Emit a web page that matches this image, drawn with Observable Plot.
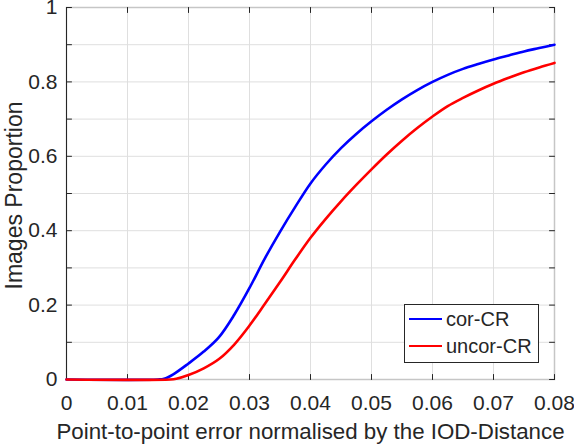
<!DOCTYPE html>
<html>
<head>
<meta charset="utf-8">
<script src="https://cdn.jsdelivr.net/npm/d3@7"></script>
<script src="https://cdn.jsdelivr.net/npm/@observablehq/plot@0.6"></script>
<style>
  body { margin: 0; background: #fff; }
  #wrap { position: relative; width: 574px; height: 444px; font-family: "Liberation Sans", Arial, sans-serif; color: #262626; }
  #legend { position: absolute; left: 404px; top: 304px; width: 133px; height: 57px; border: 1px solid #262626; background: #fff; }
  .row { position: absolute; left: 0; height: 24px; line-height: 24px; font-size: 20px; white-space: nowrap; }
  .sw { position: absolute; left: 4px; top: 10.75px; width: 33px; height: 2.5px; }
  .lbl { position: absolute; left: 41px; top: 0; }
</style>
</head>
<body>
<div id="wrap"></div>
<script>
// Series names and colours
const seriesNames = ["cor-CR", "uncor-CR"];
const seriesColors = ["#0000ff", "#ff0000"];

// cor-CR (blue)
const corX = [0, 0.015, 0.016, 0.0175, 0.02, 0.0225, 0.025, 0.0275, 0.03, 0.0325, 0.035, 0.0375, 0.04, 0.0425, 0.045, 0.0475, 0.05, 0.0525, 0.055, 0.0575, 0.06, 0.0625, 0.065, 0.0675, 0.07, 0.0725, 0.075, 0.0775, 0.08];
const corY = [0, 0, 0.002, 0.014, 0.043, 0.075, 0.114, 0.174, 0.246, 0.325, 0.397, 0.464, 0.527, 0.578, 0.622, 0.66, 0.694, 0.725, 0.753, 0.778, 0.8, 0.819, 0.835, 0.848, 0.86, 0.871, 0.882, 0.891, 0.9];

// uncor-CR (red)
const uncorX = [0, 0.017, 0.018, 0.02, 0.0225, 0.025, 0.0275, 0.03, 0.0325, 0.035, 0.0375, 0.04, 0.0425, 0.045, 0.0475, 0.05, 0.0525, 0.055, 0.0575, 0.06, 0.0625, 0.065, 0.0675, 0.07, 0.0725, 0.075, 0.0775, 0.08];
const uncorY = [0, 0, 0.002, 0.012, 0.03, 0.055, 0.094, 0.145, 0.203, 0.262, 0.323, 0.381, 0.432, 0.479, 0.523, 0.565, 0.605, 0.642, 0.676, 0.707, 0.735, 0.757, 0.777, 0.795, 0.811, 0.826, 0.839, 0.851];

// Axes
const xDomain = [0, 0.08];
const yDomain = [0, 1];
const xTicks = [0, 0.01, 0.02, 0.03, 0.04, 0.05, 0.06, 0.07, 0.08];
const yTicks = [0, 0.1, 0.2, 0.3, 0.4, 0.5, 0.6, 0.7, 0.8, 0.9, 1];
const yLabels = [0, 0.2, 0.4, 0.6, 0.8, 1];
const xTitle = "Point-to-point error normalised by the IOD-Distance";
const yTitle = "Images Proportion";

const rows = [
  ...corX.map((x, i) => ({x, y: corY[i], series: seriesNames[0]})),
  ...uncorX.map((x, i) => ({x, y: uncorY[i], series: seriesNames[1]}))
];

const ink = "#262626";
const gridColor = "#dfdfdf";
const boxColor = "#c6c6c6";
const tickShape = { draw(context, l) { context.moveTo(0, 0); context.lineTo(0, -l); } };
const tickOpts = { length: 5, anchor: "start", shape: tickShape, stroke: ink, strokeWidth: 1 };
const fmt = d => String(d);

const chart = Plot.plot({
  width: 574,
  height: 444,
  marginLeft: 66,
  marginRight: 20,
  marginTop: 7,
  marginBottom: 65,
  style: { fontFamily: "'Liberation Sans', Arial, sans-serif", color: ink, background: "#fff", overflow: "visible" },
  x: { domain: xDomain },
  y: { domain: yDomain },
  color: { domain: seriesNames, range: seriesColors },
  marks: [
    Plot.ruleX(xTicks, { stroke: gridColor, strokeWidth: 1 }),
    Plot.ruleY(yTicks, { stroke: gridColor, strokeWidth: 1 }),
    Plot.frame({ stroke: boxColor, strokeWidth: 1.5 }),
    Plot.ruleX(xDomain.slice(0, 1), { stroke: ink, strokeWidth: 1 }),
    Plot.vector(xTicks, { x: d => d, y: yDomain[0], rotate: 0, ...tickOpts }),
    Plot.vector(xTicks, { x: d => d, y: yDomain[1], rotate: 180, ...tickOpts }),
    Plot.vector(yTicks, { y: d => d, x: xDomain[0], rotate: 90, ...tickOpts }),
    Plot.vector(yTicks, { y: d => d, x: xDomain[1], rotate: -90, ...tickOpts }),
    Plot.axisX({ ticks: xTicks, tickFormat: fmt, tickSize: 0, tickPadding: 16, fontSize: 21, label: null, fill: ink }),
    Plot.axisY({ ticks: yLabels, tickFormat: fmt, tickSize: 0, tickPadding: 9, fontSize: 21, label: null, fill: ink }),
    Plot.text([xTitle], { text: d => d, frameAnchor: "bottom", dy: 59, lineAnchor: "bottom", textAnchor: "middle", fontSize: 22.3, fill: ink }),
    Plot.text([yTitle], { text: d => d, frameAnchor: "left", dx: -61, dy: 2, rotate: -90, lineAnchor: "top", textAnchor: "middle", fontSize: 23, fill: ink }),
    Plot.line(rows, { x: "x", y: "y", z: "series", stroke: "series", curve: "catmull-rom", strokeWidth: 2.6 })
  ]
});

const wrap = document.getElementById("wrap");
wrap.appendChild(chart);

// Legend (HTML, built from the series arrays)
const legend = document.createElement("div");
legend.id = "legend";
seriesNames.forEach((name, i) => {
  const row = document.createElement("div");
  row.className = "row";
  row.style.top = (2 + i * 27) + "px";
  const sw = document.createElement("div");
  sw.className = "sw";
  sw.style.background = seriesColors[i];
  const lbl = document.createElement("div");
  lbl.className = "lbl";
  lbl.textContent = name;
  row.appendChild(sw);
  row.appendChild(lbl);
  legend.appendChild(row);
});
wrap.appendChild(legend);
</script>
</body>
</html>
